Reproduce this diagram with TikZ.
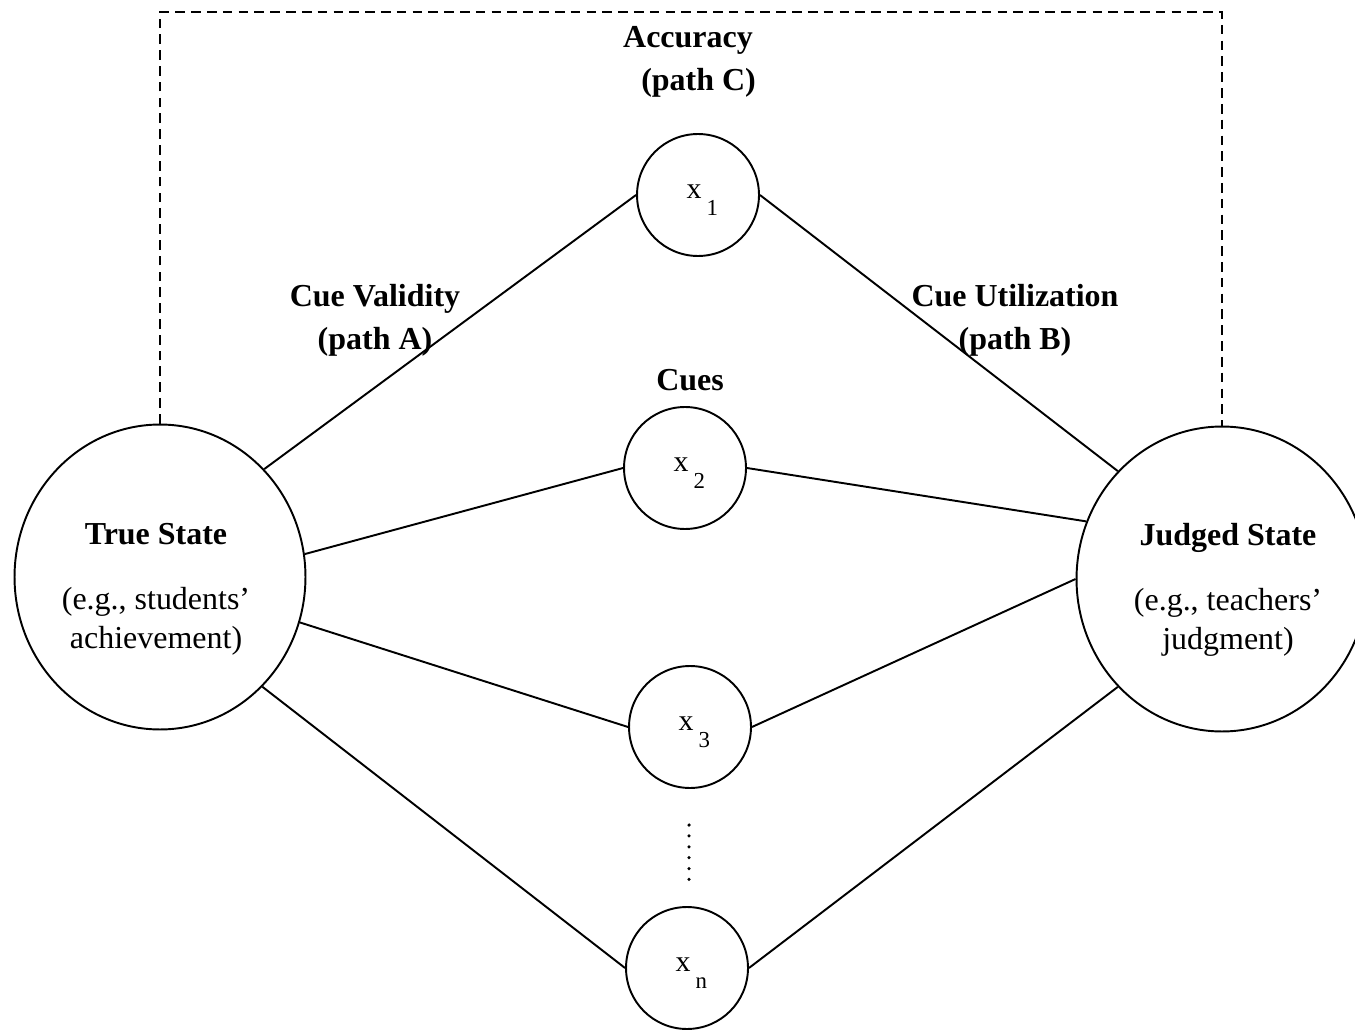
\documentclass[tikz,border=0pt]{standalone}
\usepackage{fontspec}
\setmainfont{Liberation Serif}
\usetikzlibrary{shapes.geometric}
\newcommand{\cuesub}[1]{\hspace*{5pt}x\,\raisebox{-9.5pt}[0pt][4pt]{\fontsize{13}{13}\selectfont #1}}

\begin{document}
\begin{tikzpicture}[
  x=0.02cm, y=-0.02cm,
  state/.style={draw, ellipse, line width=1.1pt, minimum width=5.82cm,
    minimum height=6.1cm, inner sep=0pt},
  statetxt/.style={align=center, inner sep=0pt, font=\fontsize{18.2}{22}\selectfont},
  cue/.style={draw, circle, line width=1.1pt, minimum size=2.44cm,
    inner sep=0pt, font=\fontsize{17}{18}\selectfont},
  lbl/.style={align=center, inner sep=0pt, font=\fontsize{18.2}{24.3}\selectfont\bfseries},
  link/.style={line width=1.1pt},
  frame/.style={line width=1.1pt, dash pattern=on 5.5pt off 3.5pt},
  gapline/.style={line width=2pt, line cap=round, dash pattern=on 0pt off 6.2pt}
]
\useasboundingbox (0,0) rectangle (1355,1030);
\node[state] (true) at (160,577) {};
\node[state] (judged) at (1222,579) {};
\node[statetxt] (truetxt) at (156,589)
  {\textbf{True State}\\[15pt](e.g., students’\\achievement)};
\node[statetxt] (judgedtxt) at (1228,590)
  {\textbf{Judged State}\\[15pt](e.g., teachers’\\judgment)};
\node[cue] (x1) at (698,195) {\cuesub{1}};
\node[cue] (x2) at (685,468) {\cuesub{2}};
\node[cue] (x3) at (690,727) {\cuesub{3}};
\node[cue] (xn) at (687,968) {\cuesub{n}};
\node[lbl] (acc) at (688,62) {Accuracy\\\hspace*{12pt}(path C)};
\node[lbl] (valid) at (375,320) {Cue Validity\\(path A)};
\node[lbl] (util) at (1015,320) {Cue Utilization\\(path B)};
\node[lbl] (cues) at (690,380) {Cues};
\coordinate (top) at (690,12);
\coordinate (dtop) at (689,825);
\coordinate (dbot) at (689,881);
\draw[frame] (true.north) |- (top) -| (judged.north);
\draw[gapline] (dtop) -- (dbot);
\foreach \c/\a/\b in {x1/46/134, x2/9/157, x3/-18/180, xn/-47/226} {
  \draw[link] (true.\a) -- (\c.west);
  \draw[link] (\c.east) -- (judged.\b);
}
\end{tikzpicture}
\end{document}
